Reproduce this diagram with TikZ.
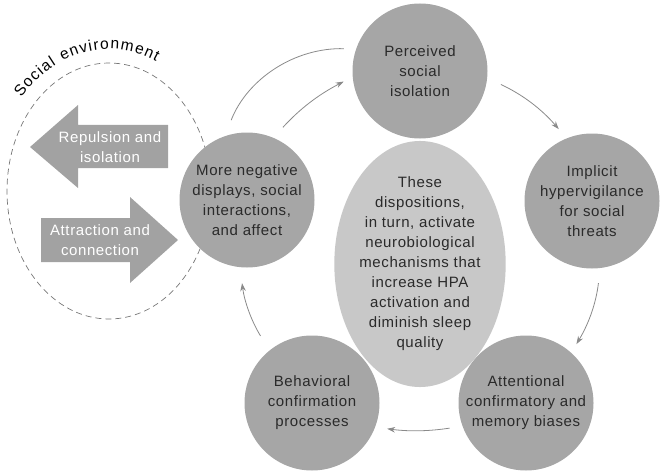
\documentclass[tikz,border=0pt]{standalone}
\usepackage{fontspec}
\setmainfont{Liberation Sans}[LetterSpace=4]
\usetikzlibrary{arrows.meta,shapes.geometric,decorations.text}
\definecolor{stagegray}{HTML}{A6A6A6}
\definecolor{coregray}{HTML}{C8C8C8}
\definecolor{blockgray}{HTML}{A2A2A2}
\definecolor{linkgray}{HTML}{8A8A8A}
\definecolor{envgray}{HTML}{777777}
\definecolor{inkdark}{HTML}{2A2A2A}
\tikzset{
  stage/.style={circle, fill=stagegray, minimum size=135pt, inner sep=0pt,
    align=center, text=inkdark, font=\fontsize{15}{20}\selectfont},
  core/.style={ellipse, fill=coregray, minimum width=170pt, minimum height=202pt,
    inner sep=0pt, align=center, text=inkdark, font=\fontsize{15}{20}\selectfont},
  blocktext/.style={align=center, text=white, font=\fontsize{15}{20}\selectfont},
  link/.style={draw=linkgray, line width=0.8pt, -{Stealth[length=8pt,width=5.5pt]}},
}

\begin{document}
\begin{tikzpicture}[x=1pt,y=1pt]
			\useasboundingbox (0,0) rectangle (664,475);
			%%%%% social environment %%%%%
			\draw[envgray, line width=0.7pt, dash pattern=on 6pt off 4pt] (109,284) ellipse [x radius=102, y radius=128];
			\path[decorate, decoration={text along path, text align=fit to path,
				text={|\fontsize{15.5}{18}\selectfont|Social environment}}]
				(109,284) ++(139:116 and 142) arc [start angle=139, end angle=66, x radius=116, y radius=142];
			
			\fill[blockgray] (30,328) -- (78,370) -- (78,350) -- (168,350) -- (168,307) -- (78,307) -- (78,287) -- cycle;
			\node[blocktext] (repel) at (110,328) {Repulsion and\\isolation};
			
			\fill[blockgray] (41,257) -- (130,257) -- (130,278) -- (178,235) -- (130,192) -- (130,213) -- (41,213) -- cycle;
			\node[blocktext] (attract) at (100,235) {Attraction and\\connection};
			
			%%%%% cycle %%%%%
			\node[stage] (perc) at (420,404) {Perceived\\social\\isolation};
			\node[stage] (impl) at (592,274) {Implicit\\hypervigilance\\for social\\threats};
			\node[stage] (attn) at (526,72) {Attentional\\confirmatory and\\memory biases};
			\node[stage] (behav) at (312,72) {Behavioral\\confirmation\\processes};
			\node[stage] (displ) at (247,275) {More negative\\displays, social\\interactions,\\and affect};
			
			\node[core] (mech) at (420,211) {These\\dispositions,\\in turn, activate\\neurobiological\\mechanisms that\\increase HPA\\activation and\\diminish sleep\\quality};
			
			\draw[link, shorten <=15pt, shorten >=12pt] (perc.-6) to[bend left=12] (impl.112);
			\draw[link, shorten <=15pt, shorten >=10pt] (impl.-83) to[bend left=12] (attn.48);
			\draw[link, shorten <=13pt, shorten >=12pt] (attn.200) to[bend left=8] (behav.-21);
			\draw[link, shorten <=17pt, shorten >=16pt] (behav.129) to[bend left=12] (displ.264);
			\draw[link, shorten <=14pt, shorten >=10pt] (displ.67) to[bend left=10] (perc.185);
			\draw[draw=linkgray, line width=0.8pt, shorten <=17pt, shorten >=12pt] (displ.109) to[bend left=35] (perc.161);
\end{tikzpicture}
\end{document}
